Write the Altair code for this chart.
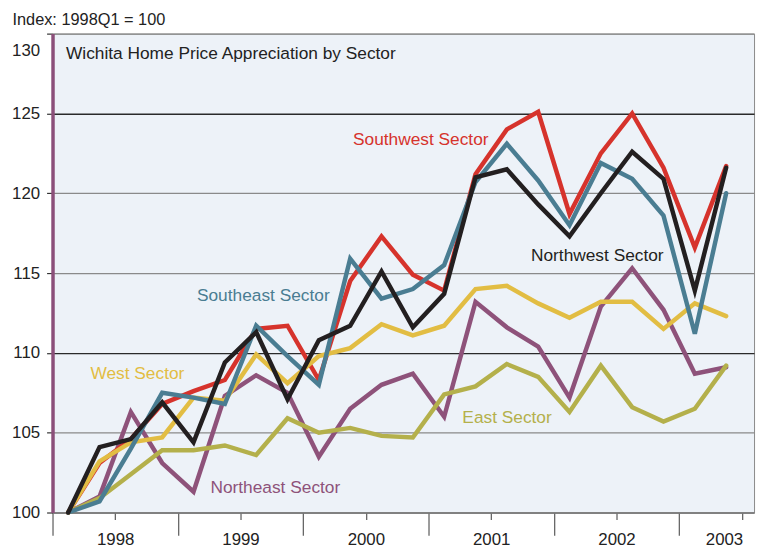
import altair as alt
import pandas as pd

# ---- data ----
quarters = ["1998Q1", "1998Q2", "1998Q3", "1998Q4",
            "1999Q1", "1999Q2", "1999Q3", "1999Q4",
            "2000Q1", "2000Q2", "2000Q3", "2000Q4",
            "2001Q1", "2001Q2", "2001Q3", "2001Q4",
            "2002Q1", "2002Q2", "2002Q3", "2002Q4",
            "2003Q1", "2003Q2"]
years = ["1998", "1999", "2000", "2001", "2002", "2003"]

southwest = [100, 103.1, 104.6, 106.8, 107.6, 108.3, 111.5, 111.7, 108.3, 114.5, 117.3,
             114.9, 113.9, 121.2, 124.0, 125.1, 118.7, 122.5, 125.0, 121.6, 116.6, 121.7]
northwest = [100, 104.1, 104.6, 106.9, 104.4, 109.4, 111.3, 107.1, 110.8, 111.7, 115.1,
             111.6, 113.7, 121.0, 121.5, 119.3, 117.3, 120.0, 122.6, 120.9, 113.9, 121.6]
southeast = [100, 100.7, 104.0, 107.5, 107.2, 106.8, 111.7, 109.8, 108.0, 115.9, 113.4,
             114.0, 115.5, 120.7, 123.1, 120.8, 118.0, 121.9, 120.9, 118.6, 111.2, 120.0]
west = [100, 103.2, 104.4, 104.7, 107.2, 107.0, 109.9, 108.1, 109.8, 110.3, 111.8,
        111.1, 111.7, 114.0, 114.2, 113.1, 112.2, 113.2, 113.2, 111.5, 113.1, 112.3]
northeast = [100, 101.0, 106.3, 103.1, 101.3, 107.3, 108.6, 107.5, 103.5, 106.5, 108.0,
             108.7, 106.0, 113.2, 111.6, 110.4, 107.2, 112.9, 115.3, 112.7, 108.7, 109.1]
east = [100, 100.9, 102.4, 103.9, 103.9, 104.2, 103.6, 105.9, 105.0, 105.3, 104.8,
        104.7, 107.4, 107.9, 109.3, 108.5, 106.3, 109.2, 106.6, 105.7, 106.5, 109.2]

sectors = ["Northeast Sector", "East Sector", "Southwest Sector",
           "West Sector", "Southeast Sector", "Northwest Sector"]
series = [northeast, east, southwest, west, southeast, northwest]
colors = ["#8E527A", "#B4B04B", "#D6332C", "#E2BD43", "#4A7D92", "#231F20"]

# label anchors (in data units: quarter index, index value)
label_t = [5.04, 13.08, 9.59, 1.21, 4.61, 15.27]
label_v = [101.24, 105.6, 123.02, 108.37, 113.24, 115.77]

chart_title = "Wichita Home Price Appreciation by Sector"
title_t = [0.43]
title_v = [128.44]

FONT = "Liberation Sans, Arial, sans-serif"

rows = []
for name, vals in zip(sectors, series):
    for i, (q, v) in enumerate(zip(quarters, vals)):
        rows.append({"sector": name, "quarter": q, "t": i + 0.5, "value": v})
df = pd.DataFrame(rows)
lab = pd.DataFrame({"sector": sectors, "t": label_t, "value": label_v})
ttl = pd.DataFrame({"text": [chart_title], "t": title_t, "value": title_v})

color = alt.Color("sector:N", scale=alt.Scale(domain=sectors, range=colors), legend=None)

year_expr = " : ".join(
    [f"datum.value === {4 * k + 2} ? '{y}'" for k, y in enumerate(years)]) + " : ''"

xscale = alt.Scale(domain=[0, 22.39], nice=False, zero=False)
yscale = alt.Scale(domain=[100, 130], nice=False, zero=False)

x_axis = alt.Axis(
    values=list(range(23)), title=None, grid=False,
    domainColor="#7a7a7a", domainWidth=1.5,
    tickColor="#666666", tickWidth=1.3,
    tickSize={"condition": {"test": "datum.value % 4 === 0", "value": 23}, "value": 7},
    labelExpr=year_expr, labelFont=FONT, labelFontSize=17, labelColor="#222222",
    labelPadding=12, labelFlush=False, labelOverlap=False,
    labelOffset={"condition": {"test": "datum.value === 22", "value": -18}, "value": 0},
)
y_axis = alt.Axis(
    values=[100, 105, 110, 115, 120, 125, 130],
    title="Index: 1998Q1 = 100", titleAngle=0, titleAlign="left",
    titleBaseline="alphabetic", titleX=-41, titleY=-9,
    titleFont=FONT, titleFontSize=16.5, titleFontWeight="normal", titleColor="#222222",
    grid=True, gridWidth=1.3,
    gridColor={"condition": {"test": "datum.value === 110 || datum.value === 125",
                             "value": "#2a2a2a"}, "value": "#8a8a8a"},
    domainColor="#8B4F7A", domainWidth=3.5,
    tickColor="#333333", tickSize=6, tickWidth=1.2,
    labelFont=FONT, labelFontSize=17, labelColor="#222222", labelPadding=7,
    labelOffset={"condition": {"test": "datum.value === 130", "value": 17}, "value": 0},
)

lines = alt.Chart(df).mark_line(strokeWidth=4.5, strokeJoin="miter", strokeCap="round").encode(
    x=alt.X("t:Q", scale=xscale, axis=x_axis),
    y=alt.Y("value:Q", scale=yscale, axis=y_axis),
    color=color,
    detail="sector:N",
)

labels = alt.Chart(lab).mark_text(align="left", baseline="alphabetic",
                                  font=FONT, fontSize=17.5).encode(
    x=alt.X("t:Q", scale=xscale),
    y=alt.Y("value:Q", scale=yscale),
    text="sector:N",
    color=color,
)

title_mark = alt.Chart(ttl).mark_text(align="left", baseline="alphabetic",
                                      font=FONT, fontSize=17.5, color="#222222").encode(
    x=alt.X("t:Q", scale=xscale),
    y=alt.Y("value:Q", scale=yscale),
    text="text:N",
)

chart = alt.layer(lines, labels, title_mark).properties(
    width=709, height=484,
    autosize="none",
    padding={"left": 45, "top": 23, "right": 4, "bottom": 36},
).configure_view(fill="#EDF2F8", stroke="#8a8a8a", strokeWidth=1)

chart.save("out.html", embed_options={"renderer": "svg", "actions": False})
